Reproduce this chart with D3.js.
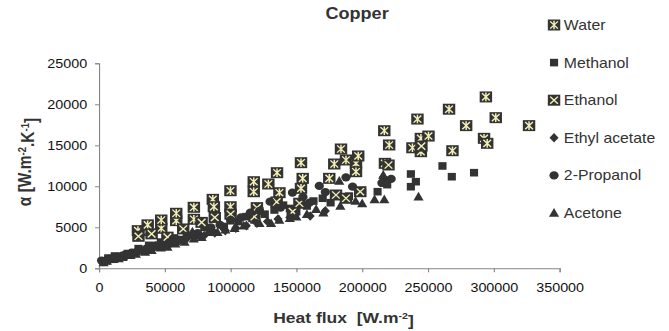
<!DOCTYPE html>
<html>
<head>
<meta charset="utf-8">
<script src="https://cdn.jsdelivr.net/npm/d3@7/dist/d3.min.js"></script>
<style>
  html, body { margin: 0; padding: 0; background: #fff; }
  svg { display: block; font-family: "Liberation Sans", Arial, sans-serif; }
</style>
</head>
<body>
<svg id="chart"></svg>
<script>
// values: [heat flux, alpha]
const water = [
  [29600, 4590], [36000, 4600], [37000, 5300], [47300, 4880], [47300, 5890],
  [58700, 5810], [58700, 6710], [72100, 5980], [72100, 7440], [86500, 8410],
  [87300, 7510], [99900, 9460], [99900, 7510], [117600, 10560], [117600, 9340],
  [128700, 10280], [135300, 11660], [137100, 9220], [153500, 12880], [154800, 10970],
  [153500, 9750], [175000, 10970], [178800, 12720], [183900, 14550], [187700, 13210],
  [195300, 12800], [197000, 13700], [195300, 11780], [216800, 16780], [220500, 15040],
  [217300, 12800], [238200, 14700], [244600, 15850], [250400, 16130], [242000, 18200],
  [244600, 14220], [266000, 19400], [268600, 14340], [279000, 17400], [292600, 15850],
  [295000, 15240], [294000, 20900], [301500, 18370], [326800, 17400]
];
const methanol = [
  [4000, 900], [7000, 1250], [9000, 1100], [12000, 1500], [14000, 1300],
  [19000, 1550], [22000, 1800], [26000, 1900], [30000, 2400], [33000, 2200],
  [38000, 2800], [42000, 2600], [47000, 3200], [52000, 3000], [57000, 3700],
  [62000, 3500], [68000, 4000], [73000, 4100], [80000, 5000], [84000, 4600],
  [95000, 5100], [100000, 5800], [106000, 5700], [112000, 6300], [118000, 5900],
  [122000, 7000], [126000, 6600], [133300, 7110], [140000, 7700], [145000, 7300],
  [150000, 6900], [158000, 7600], [163000, 8200], [170000, 8540], [176000, 8000],
  [190000, 8800], [200000, 9200], [211700, 9340], [216200, 10770], [219000, 10200],
  [237000, 9950], [237000, 11500], [240800, 10560], [261000, 12480], [268100, 11170],
  [285000, 11660]
];
const ethanol = [
  [30000, 3900], [40000, 4200], [52000, 3800], [64000, 4800], [78000, 5600],
  [88000, 6200], [100000, 6600], [118100, 6290], [120000, 7400], [135000, 8100],
  [147200, 6910], [152300, 7930], [180100, 8940], [187700, 8540], [198500, 9340],
  [220000, 12600], [245000, 14900]
];
const ethylAcetate = [
  [3000, 800], [5000, 950], [8000, 1000], [13000, 1200], [17000, 1400],
  [21000, 1550], [25000, 1750], [30000, 2000], [36000, 2200], [41000, 2450],
  [47000, 2700], [53000, 2900], [60000, 3200], [66000, 3500], [73000, 3800],
  [80000, 4000], [88000, 4300], [96000, 4600], [104000, 4900], [112000, 5200],
  [120000, 5500], [128000, 5700], [136000, 6000], [145000, 6200], [160500, 6380],
  [172000, 7000]
];
const propanol = [
  [2000, 950], [7000, 1150], [11000, 1300], [16000, 1450], [20000, 1700],
  [25000, 1900], [30000, 2200], [36000, 2400], [43000, 2800], [48000, 2900],
  [55000, 3300], [60000, 3500], [67000, 4000], [75000, 4300], [85000, 5000],
  [92000, 5300], [100000, 5900], [108000, 6200], [115000, 6800], [122000, 7000],
  [130000, 8120], [138000, 7400], [147000, 9220], [155000, 8700], [160000, 8000],
  [167400, 10040], [172000, 9300], [187700, 11100], [192700, 9950], [215000, 10400],
  [222000, 10900]
];
const acetone = [
  [3500, 700], [6000, 900], [11000, 1100], [15000, 1200], [18000, 1350],
  [24000, 1600], [28000, 1750], [35000, 2000], [40000, 2200], [47000, 2500],
  [52000, 2600], [58000, 3000], [65000, 3200], [71000, 4460], [72000, 3600],
  [78000, 3800], [85000, 4400], [90000, 4400], [96000, 4700], [103000, 4900],
  [110000, 5200], [122000, 5490], [130800, 5490], [137000, 5900], [145000, 6100],
  [150000, 6300], [158000, 6600], [165000, 7200], [170500, 6780], [182600, 10650],
  [183400, 7600], [195000, 8200], [200000, 7900], [209400, 8410], [216800, 8410],
  [216000, 11380], [242800, 8730]
];
const seriesNames = ["Water", "Methanol", "Ethanol", "Ethyl acetate", "2-Propanol", "Acetone"];
const xTicks = [0, 50000, 100000, 150000, 200000, 250000, 300000, 350000];
const yTicks = [0, 5000, 10000, 15000, 20000, 25000];

const dark = "#333333";
const pale = "#f3efb6";
const stretch = 1.13; // reference is drawn wider than tall
const W = 669, H = 331, DW = W / stretch;

const svg = d3.select("#chart")
  .attr("width", W).attr("height", H)
  .attr("viewBox", `0 0 ${DW} ${H}`)
  .attr("preserveAspectRatio", "none");

const x = d3.scaleLinear().domain([0, 350000]).range([87.6, 495.2]);
const y = d3.scaleLinear().domain([0, 25000]).range([268.3, 63.3]);

// axes
const xAxis = svg.append("g").attr("transform", `translate(0,${y(0)})`)
  .call(d3.axisBottom(x).tickValues(xTicks).tickFormat(d3.format("d")).tickSizeOuter(0).tickSize(4).tickPadding(10.5));
const yAxis = svg.append("g").attr("transform", `translate(${x(0)},0)`)
  .call(d3.axisLeft(y).tickValues(yTicks).tickFormat(d3.format("d")).tickSizeOuter(0).tickSize(3.5).tickPadding(7));
[xAxis, yAxis].forEach(a => {
  a.select(".domain").attr("stroke", "#868686").attr("stroke-width", 1);
  a.selectAll(".tick line").attr("stroke", "#868686");
  a.selectAll(".tick text").attr("fill", "#111").style("font-size", "12.7px").style("font-family", "Liberation Sans, Arial, sans-serif");
});

// marker painters
const markers = {
  water(g) {
    g.append("rect").attr("x", -5.5).attr("y", -5.5).attr("width", 11).attr("height", 11).attr("fill", dark);
    g.append("path").attr("d", "M-3.4,-3.6L3.4,3.6M-3.4,3.6L3.4,-3.6M0,-4.3L0,4.3")
      .attr("stroke", pale).attr("stroke-width", 1.3).attr("fill", "none");
  },
  methanol(g) {
    g.append("rect").attr("x", -3.6).attr("y", -3.8).attr("width", 7.2).attr("height", 7.6).attr("fill", dark);
  },
  ethanol(g) {
    g.append("rect").attr("x", -5.5).attr("y", -5.5).attr("width", 11).attr("height", 11).attr("fill", dark);
    g.append("path").attr("d", "M-3.4,-3.6L3.4,3.6M-3.4,3.6L3.4,-3.6")
      .attr("stroke", pale).attr("stroke-width", 1.3).attr("fill", "none");
  },
  ethylAcetate(g) {
    g.append("path").attr("d", "M0,-4.8L4,0L0,4.8L-4,0Z").attr("fill", dark);
  },
  propanol(g) {
    g.append("circle").attr("r", 4.1).attr("fill", dark);
  },
  acetone(g) {
    g.append("path").attr("d", "M0,-4.9L4.5,3.8L-4.5,3.8Z").attr("fill", dark);
  }
};

const series = [
  { key: "water", data: water },
  { key: "methanol", data: methanol },
  { key: "ethanol", data: ethanol },
  { key: "ethylAcetate", data: ethylAcetate },
  { key: "propanol", data: propanol },
  { key: "acetone", data: acetone }
];

const plot = svg.append("g").attr("class", "points");
series.forEach(s => {
  plot.append("g").attr("class", s.key)
    .selectAll("g").data(s.data).join("g")
    .attr("transform", d => `translate(${x(d[0])},${y(d[1])})`)
    .each(function () { markers[s.key](d3.select(this)); });
});

// legend
const legend = svg.append("g").attr("class", "legend");
series.forEach((s, i) => {
  const ly = 25 + i * 37.6;
  const item = legend.append("g").attr("transform", `translate(490.3,${ly})`);
  markers[s.key](item);
  legend.append("text")
    .attr("x", 499).attr("y", ly).attr("dy", "0.36em")
    .attr("fill", dark).style("font-size", "14px")
    .text(seriesNames[i]);
});

// titles
svg.append("text")
  .attr("x", 316).attr("y", 19).attr("text-anchor", "middle")
  .attr("fill", dark).style("font-size", "16px").style("font-weight", "bold")
  .text("Copper");

const xt = svg.append("text")
  .attr("x", 304).attr("y", 323).attr("text-anchor", "middle")
  .attr("fill", dark).style("font-size", "15.5px").style("font-weight", "bold")
  .style("white-space", "pre");
xt.append("tspan").text("Heat flux  [W.m");
xt.append("tspan").attr("dy", "-0.45em").style("font-size", "9.5px").text("-2");
xt.append("tspan").attr("dy", "0.45em").text("]");

const yt = svg.append("text")
  .attr("transform", "translate(27,162) rotate(-90)")
  .attr("text-anchor", "middle")
  .attr("fill", dark).style("font-size", "15.5px").style("font-weight", "bold");
yt.append("tspan").text("α [W.m");
yt.append("tspan").attr("dy", "-0.45em").style("font-size", "9.5px").text("-2");
yt.append("tspan").attr("dy", "0.45em").text(".K");
yt.append("tspan").attr("dy", "-0.45em").style("font-size", "9.5px").text("-1");
yt.append("tspan").attr("dy", "0.45em").text("]");
</script>
</body>
</html>
